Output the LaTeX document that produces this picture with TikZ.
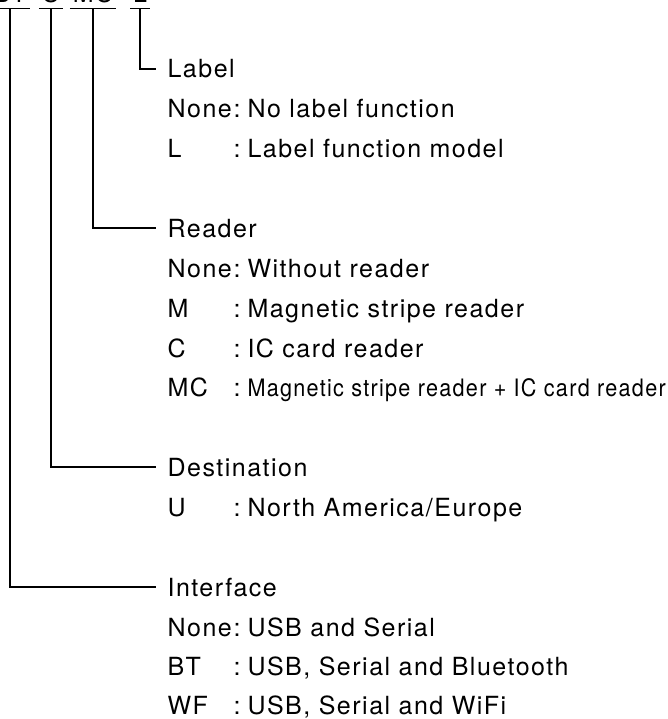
\documentclass[tikz,border=0pt]{standalone}
\usepackage{fontspec}
\setmainfont{TeX Gyre Heros}[LetterSpace=6]
\newcommand\choicekey[1]{\makebox[66pt][l]{#1}:\hspace{7pt}}
\begin{document}
\begin{tikzpicture}[x=1pt,y=-1pt,line width=1.1pt,font=\fontsize{25}{30}\selectfont,
  code/.style={anchor=base,inner xsep=2.5pt,inner ysep=5pt,text depth=0pt},
  heading/.style={anchor=west,inner xsep=11pt,inner ysep=0pt,text height=18pt,text depth=0pt},
  choice/.style={anchor=west,inner sep=0pt,text height=18pt,text depth=0pt}]
\useasboundingbox (0,0) rectangle (667,719);
\clip (0,0) rectangle (667,719);
% model code, cut at the top edge
\node[code] (bt) at (10,3) {BT};
\node[code] (u) at (51,3) {U};
\node[code] (mc) at (93,3) {MC};
\node[code] (l) at (140,3) {L};
\foreach \c in {bt,u,mc,l}
  \draw (\c.south west) -- (\c.south east);
% headings
\node[heading] (label) at (156,69) {Label};
\node[heading] (reader) at (156,228) {Reader};
\node[heading] (dest) at (156,467) {Destination};
\node[heading] (iface) at (156,587) {Interface};
\draw (l.south) |- (label.west);
\draw (mc.south) |- (reader.west);
\draw (u.south) |- (dest.west);
\draw (bt.south) |- (iface.west);
% choices
\node[choice] (lblnone) at (167,109) {\choicekey{None}No label function};
\node[choice] (lbll) at (167,149) {\choicekey{L}Label function model};
\node[choice] (rdrnone) at (167,268) {\choicekey{None}Without reader};
\node[choice] (rdrm) at (167,308) {\choicekey{M}Magnetic stripe reader};
\node[choice] (rdrc) at (167,348) {\choicekey{C}IC card reader};
\node[choice] (rdrmc) at (167,387) {\choicekey{MC}\scalebox{0.9}[1]{\fontsize{24}{29}\selectfont Magnetic stripe reader + IC card reader}};
\node[choice] (dstu) at (167,507) {\choicekey{U}North America/Europe};
\node[choice] (ifnone) at (167,627) {\choicekey{None}USB and Serial};
\node[choice] (ifbt) at (167,666) {\choicekey{BT}USB, Serial and Bluetooth};
\node[choice] (ifwf) at (167,705) {\choicekey{WF}USB, Serial and WiFi};
\end{tikzpicture}
\end{document}
